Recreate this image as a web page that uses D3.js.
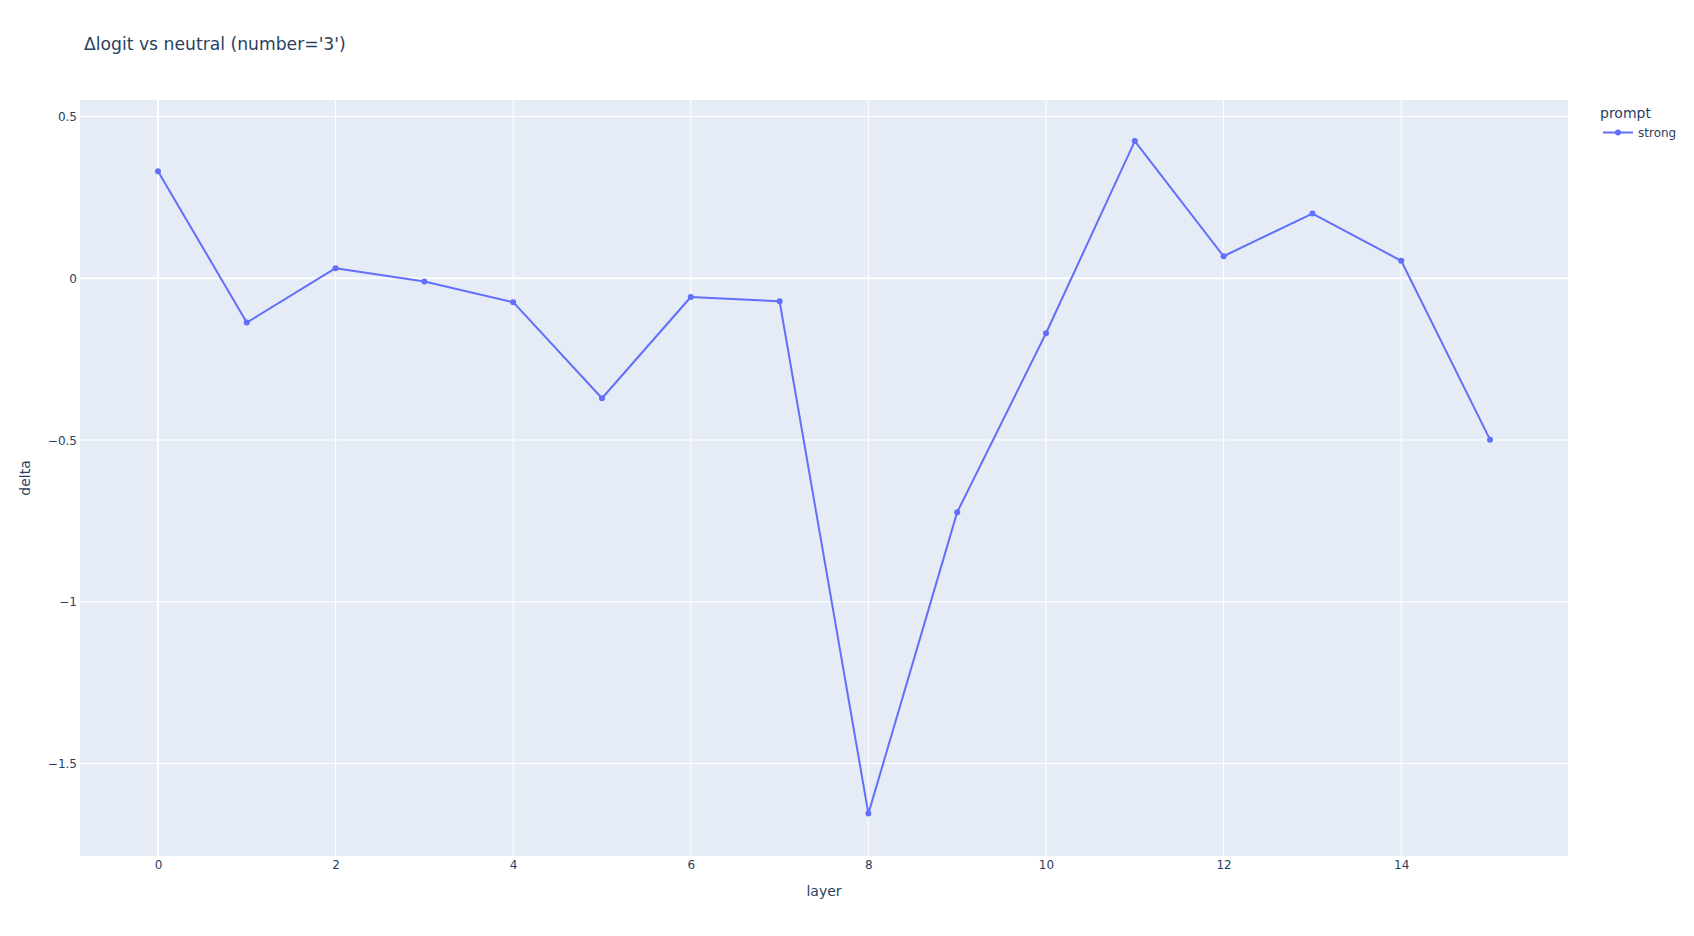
<!DOCTYPE html>
<html>
<head>
<meta charset="utf-8">
<script src="https://cdn.jsdelivr.net/npm/d3@7"></script>
<style>
  body { margin: 0; background: #fff; }
  text { font-family: "DejaVu Sans", verdana, arial, sans-serif; fill: #2a3f5f; }
</style>
</head>
<body>
<div class="chart"></div>
<script>
var svgWidth = 1694;
var svgHeight = 936;

var margin = { top: 100, right: 126, bottom: 80, left: 80 };
var width = svgWidth - margin.left - margin.right;
var height = svgHeight - margin.top - margin.bottom;

// data
var layers = [0, 1, 2, 3, 4, 5, 6, 7, 8, 9, 10, 11, 12, 13, 14, 15];
var deltas = [0.331, -0.137, 0.031, -0.010, -0.074, -0.371, -0.058, -0.071,
  -1.655, -0.723, -0.170, 0.424, 0.068, 0.200, 0.054, -0.499];
var xTicks = [0, 2, 4, 6, 8, 10, 12, 14];
var yTicks = [0.5, 0, -0.5, -1, -1.5];
var seriesName = "strong";
var lineColor = "#636efa";

var svg = d3.select(".chart")
  .append("svg")
  .attr("width", svgWidth)
  .attr("height", svgHeight);

var chartGroup = svg.append("g")
  .attr("transform", `translate(${margin.left}, ${margin.top})`);

var xScale = d3.scaleLinear()
  .domain([-0.878, 15.878])
  .range([0, width]);

var yScale = d3.scaleLinear()
  .domain([-1.786, 0.551])
  .range([height, 0]);

// plot background
chartGroup.append("rect")
  .attr("width", width)
  .attr("height", height)
  .attr("fill", "#E5ECF6");

// grid lines
chartGroup.selectAll(".xgrid")
  .data(xTicks)
  .enter()
  .append("line")
  .attr("x1", d => xScale(d))
  .attr("x2", d => xScale(d))
  .attr("y1", 0)
  .attr("y2", height)
  .attr("stroke", "#fff")
  .attr("stroke-width", d => d === 0 ? 2 : 1);

chartGroup.selectAll(".ygrid")
  .data(yTicks)
  .enter()
  .append("line")
  .attr("x1", 0)
  .attr("x2", width)
  .attr("y1", d => yScale(d))
  .attr("y2", d => yScale(d))
  .attr("stroke", "#fff")
  .attr("stroke-width", d => d === 0 ? 2 : 1);

// axes (labels only, plotly style)
var fmt = d => d3.format("")(d).replace("-", "\u2212");

var bottomAxis = d3.axisBottom(xScale).tickValues(xTicks).tickSize(0).tickPadding(4).tickFormat(fmt);
var leftAxis = d3.axisLeft(yScale).tickValues(yTicks).tickSize(0).tickPadding(3).tickFormat(fmt);

var xAxis = chartGroup.append("g")
  .attr("transform", `translate(0, ${height})`)
  .call(bottomAxis);
var yAxis = chartGroup.append("g")
  .call(leftAxis);

[xAxis, yAxis].forEach(function(ax) {
  ax.select(".domain").remove();
  ax.selectAll("text")
    .style("font-size", "12px")
    .attr("fill", "#2a3f5f");
});
yAxis.selectAll("text").attr("dy", "0.35em");

// line and markers
var line = d3.line()
  .x((d, i) => xScale(layers[i]))
  .y(d => yScale(d));

chartGroup.append("path")
  .datum(deltas)
  .attr("d", line)
  .attr("fill", "none")
  .attr("stroke", lineColor)
  .attr("stroke-width", 2)
  .attr("stroke-linejoin", "round");

chartGroup.selectAll("circle")
  .data(deltas)
  .enter()
  .append("circle")
  .attr("cx", (d, i) => xScale(layers[i]))
  .attr("cy", d => yScale(d))
  .attr("r", 3)
  .attr("fill", lineColor);

// title
svg.append("text")
  .attr("x", 84)
  .attr("y", 50)
  .style("font-size", "17.2px")
  .text("\u0394logit vs neutral (number='3')");

// axis titles
svg.append("text")
  .attr("x", margin.left + width / 2)
  .attr("y", 896)
  .attr("text-anchor", "middle")
  .style("font-size", "14px")
  .text("layer");

svg.append("text")
  .attr("transform", `translate(30, ${margin.top + height / 2}) rotate(-90)`)
  .attr("text-anchor", "middle")
  .style("font-size", "14px")
  .text("delta");

// legend
var legend = svg.append("g")
  .attr("transform", "translate(1600, 0)");

legend.append("text")
  .attr("x", 0)
  .attr("y", 118)
  .style("font-size", "14px")
  .text("prompt");

legend.append("line")
  .attr("x1", 3)
  .attr("x2", 33)
  .attr("y1", 132.5)
  .attr("y2", 132.5)
  .attr("stroke", lineColor)
  .attr("stroke-width", 2);

legend.append("circle")
  .attr("cx", 18)
  .attr("cy", 132.5)
  .attr("r", 3)
  .attr("fill", lineColor);

legend.append("text")
  .attr("x", 38)
  .attr("y", 137)
  .style("font-size", "12px")
  .text(seriesName);
</script>
</body>
</html>
